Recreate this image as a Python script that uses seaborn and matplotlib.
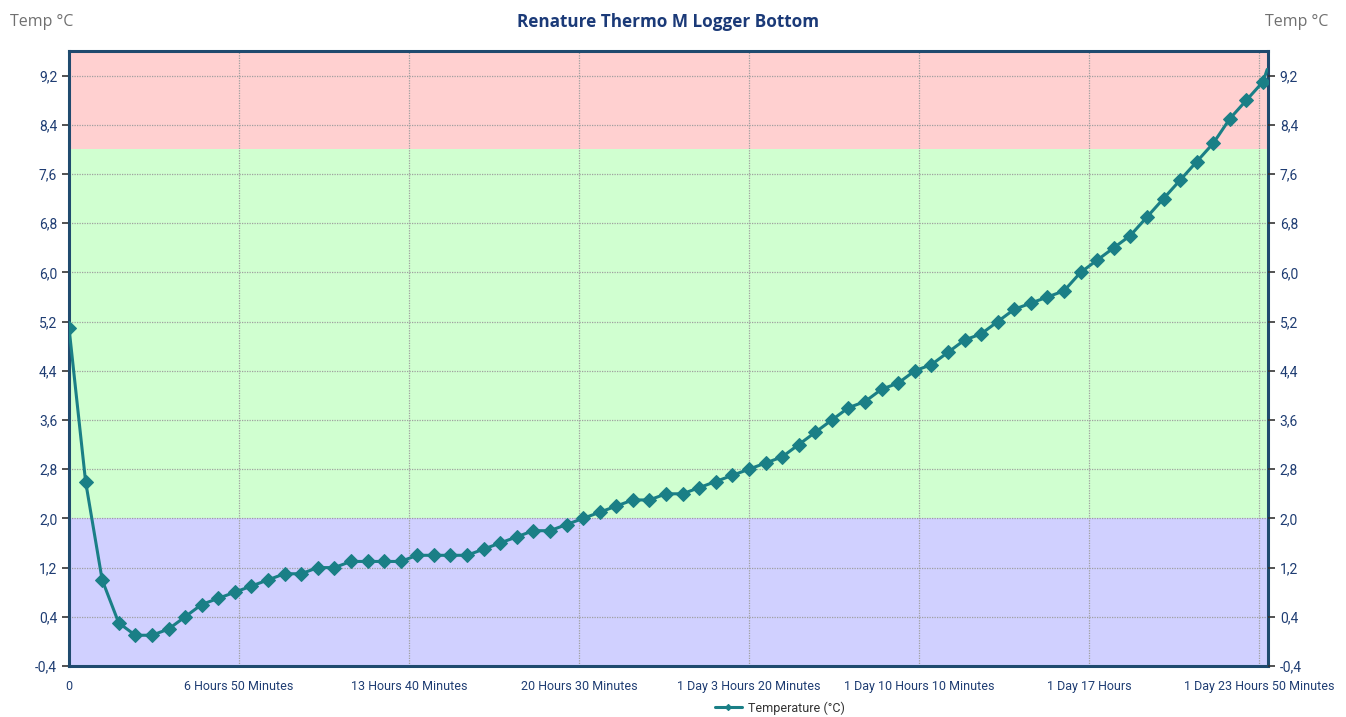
import matplotlib
matplotlib.use("Agg")
import matplotlib.pyplot as plt
import seaborn as sns
import pandas as pd
import numpy as np

# ---- data ----
minutes = [0, 40, 80, 120, 160, 200, 240, 280, 320, 360,
           400, 440, 480, 520, 560, 600, 640, 680, 720, 760,
           800, 840, 880, 920, 960, 1000, 1040, 1080, 1120, 1160,
           1200, 1240, 1280, 1320, 1360, 1400, 1440, 1480, 1520, 1560,
           1600, 1640, 1680, 1720, 1760, 1800, 1840, 1880, 1920, 1960,
           2000, 2040, 2080, 2120, 2160, 2200, 2240, 2280, 2320, 2360,
           2400, 2440, 2480, 2520, 2560, 2600, 2640, 2680, 2720, 2760,
           2800, 2840, 2880, 2890]
temperature = [5.1, 2.6, 1.0, 0.3, 0.1, 0.1, 0.2, 0.4, 0.6, 0.7,
               0.8, 0.9, 1.0, 1.1, 1.1, 1.2, 1.2, 1.3, 1.3, 1.3,
               1.3, 1.4, 1.4, 1.4, 1.4, 1.5, 1.6, 1.7, 1.8, 1.8,
               1.9, 2.0, 2.1, 2.2, 2.3, 2.3, 2.4, 2.4, 2.5, 2.6,
               2.7, 2.8, 2.9, 3.0, 3.2, 3.4, 3.6, 3.8, 3.9, 4.1,
               4.2, 4.4, 4.5, 4.7, 4.9, 5.0, 5.2, 5.4, 5.5, 5.6,
               5.7, 6.0, 6.2, 6.4, 6.6, 6.9, 7.2, 7.5, 7.8, 8.1,
               8.5, 8.8, 9.1, 9.3]
x_tick_minutes = [0, 410, 820, 1230, 1640, 2050, 2460, 2870]
x_tick_labels = ["0", "6 Hours 50 Minutes", "13 Hours 40 Minutes",
                 "20 Hours 30 Minutes", "1 Day 3 Hours 20 Minutes",
                 "1 Day 10 Hours 10 Minutes", "1 Day 17 Hours",
                 "1 Day 23 Hours 50 Minutes"]
y_ticks = [-0.4, 0.4, 1.2, 2.0, 2.8, 3.6, 4.4, 5.2, 6.0, 6.8, 7.6, 8.4, 9.2]
band_limits = [-0.4, 2.0, 8.0, 9.6]
band_colors = ["#D0D0FF", "#D0FFD0", "#FFD0D0"]

df = pd.DataFrame({"Minutes": minutes, "Temperature (°C)": temperature})

# ---- style ----
sns.set_style("white")
plt.rcParams['font.family'] = ['Roboto', 'DejaVu Sans']

navy = "#1F3D73"
spine_col = "#1F4A6E"
line_col = "#1A7F86"

fig = plt.figure(figsize=(13.46, 7.17), dpi=100)
ax = fig.add_axes([69/1346, 1-666/717, (1268-69)/1346, (666-51)/717])

xmin, xmax = 0, 2892
ymin, ymax = band_limits[0], band_limits[-1]

for lo, hi, c in zip(band_limits[:-1], band_limits[1:], band_colors):
    ax.axhspan(lo, hi, color=c, zorder=0, lw=0)

n_mark = len(minutes) - 1
sns.lineplot(data=df, x="Minutes", y="Temperature (°C)", ax=ax,
             color=line_col, lw=2.2, marker="D", markersize=7,
             markeredgecolor=line_col, markevery=list(range(n_mark)),
             label="Temperature (°C)", zorder=3)

ax.set_xlim(xmin, xmax)
ax.set_ylim(ymin, ymax)
ax.set_xticks(x_tick_minutes)
ax.set_xticklabels(x_tick_labels)
ax.set_yticks(y_ticks)
ax.set_yticklabels([f"{v:.1f}".replace(".", ",") for v in y_ticks])
ax.set_xlabel("")
ax.set_ylabel("")

ax.grid(True, color="#A0A0A0", linestyle=(0, (1, 1)), lw=0.9, zorder=1)
for l in ax.get_xgridlines() + ax.get_ygridlines():
    l.set_zorder(1)

for s in ax.spines.values():
    s.set_color(spine_col)
    s.set_linewidth(2.2)

ax.tick_params(axis="both", direction="out", length=5, width=1.2,
               color="#333333", labelsize=10, labelcolor=navy)
ax.tick_params(axis="x", labelsize=9, pad=5)

ax2 = ax.twinx()
ax2.set_ylim(ymin, ymax)
ax2.set_yticks(y_ticks)
ax2.set_yticklabels([f"{v:.1f}".replace(".", ",") for v in y_ticks])
ax2.tick_params(axis="y", direction="out", length=5, width=1.2,
                color="#333333", labelsize=10, labelcolor=navy)
for s in ax2.spines.values():
    s.set_visible(False)
ax2.grid(False)

fig.text(668/1346, 1-22/717, "Renature Thermo M Logger Bottom",
         ha="center", va="center", fontsize=12.3, fontweight="bold",
         color="#1B3A78", family=["Open Sans", "DejaVu Sans"])
fig.text(10/1346, 1-22/717, "Temp °C", ha="left", va="center",
         fontsize=11.5, color="#707070", family=["Open Sans", "DejaVu Sans"])
fig.text(1328/1346, 1-22/717, "Temp °C", ha="right", va="center",
         fontsize=11.5, color="#707070", family=["Open Sans", "DejaVu Sans"])

leg = ax.legend(loc="center", bbox_to_anchor=(780/1346, 1-708/717),
                bbox_transform=fig.transFigure, frameon=False,
                fontsize=9, handlelength=2.2, markerscale=0.45,
                handletextpad=0.5)
for t in leg.get_texts():
    t.set_color("#333333")

fig.savefig("out.png", dpi=100)
